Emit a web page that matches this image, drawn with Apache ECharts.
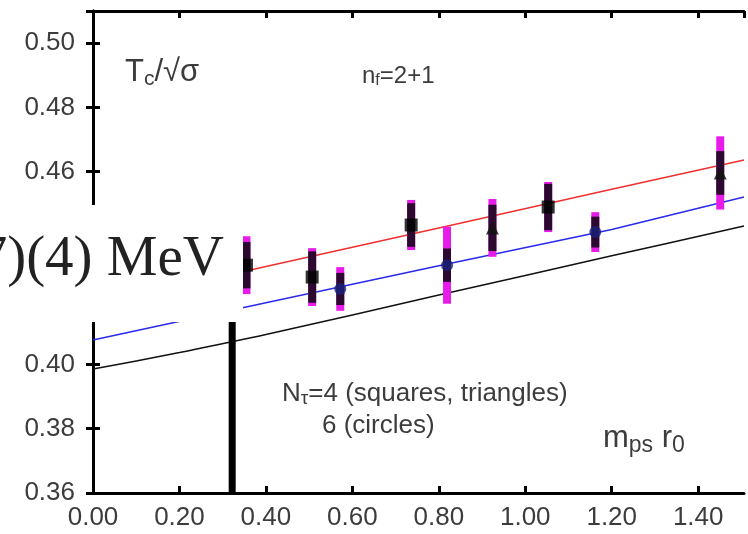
<!DOCTYPE html>
<html>
<head>
<meta charset="utf-8">
<script src="https://cdn.jsdelivr.net/npm/echarts@6/dist/echarts.min.js"></script>
<style>
  html, body { margin: 0; padding: 0; background: #fff; }
  #chart { width: 748px; height: 534px; }
</style>
</head>
<body>
<div id="chart"></div>
<script>
// Axis tick values
const xTicks = [0.0, 0.2, 0.4, 0.6, 0.8, 1.0, 1.2, 1.4];
const yTicks = [0.36, 0.38, 0.40, 0.42, 0.44, 0.46, 0.48, 0.50];

// N_tau = 4, squares: x, value, inner (statistical) and outer (total) errors
const squareX = [0.355, 0.507, 0.736, 1.053];
const squareY = [0.4309, 0.4272, 0.4434, 0.4490];
const squareErrIn = [0.0072, 0.0080, 0.0068, 0.0072];
const squareErrOut = [0.0090, 0.0090, 0.0078, 0.0078];

// N_tau = 4, triangles
const triX = [0.924, 1.451];
const triY = [0.4425, 0.4596];
const triErrIn = [0.0072, 0.0068];
const triErrOut = [0.0090, 0.0114];

// N_tau = 6, circles
const circX = [0.572, 0.819, 1.162];
const circY = [0.4235, 0.4309, 0.4412];
const circErrIn = [0.0050, 0.0052, 0.0048];
const circErrOut = [0.0068, 0.0120, 0.0062];

// Fit curves (x, Tc/sqrt(sigma))
const fitRedX = [0.0, 0.4, 0.8, 1.2, 1.506];
const fitRedY = [0.4184, 0.4305, 0.4425, 0.4545, 0.4636];
const fitBlueX = [0.0, 0.4, 0.8, 1.2, 1.506];
const fitBlueY = [0.4076, 0.4192, 0.4307, 0.4420, 0.4521];
const fitBlackX = [0.0, 0.1, 0.2, 0.4, 0.8, 1.2, 1.506];
const fitBlackY = [0.3986, 0.4011, 0.4037, 0.4093, 0.4216, 0.4338, 0.4431];

// Physical point m_ps r0
const physX = [0.322, 0.322];
const physY = [0.36, 0.42];

const X_MIN = 0, X_MAX = 1.506, Y_MIN = 0.36, Y_MAX = 0.51;
const textColor = '#3c3c3c';
const sans = 'Liberation Sans, Arial, sans-serif';

const zip = (xs, ys) => xs.map((x, i) => [x, ys[i]]);
const isTick = (v, list) => list.some(t => Math.abs(t - v) < 1e-6);

// Error bar rows: [x, y, errIn, errOut]
const errRows = [].concat(
  squareX.map((x, i) => [x, squareY[i], squareErrIn[i], squareErrOut[i]]),
  triX.map((x, i) => [x, triY[i], triErrIn[i], triErrOut[i]]),
  circX.map((x, i) => [x, circY[i], circErrIn[i], circErrOut[i]])
);

function errBar(which, color, width) {
  return {
    type: 'custom',
    data: errRows,
    z: which === 'out' ? 3 : 4,
    silent: true,
    renderItem: function (params, api) {
      const x = api.value(0), y = api.value(1);
      const e = which === 'out' ? api.value(3) : api.value(2);
      const top = api.coord([x, y + e]);
      const bot = api.coord([x, y - e]);
      return {
        type: 'rect',
        shape: { x: top[0] - width / 2, y: top[1], width: width, height: bot[1] - top[1] },
        style: { fill: color }
      };
    }
  };
}

const axisLine = { show: true, lineStyle: { color: '#000', width: 3 } };
const axisTick = { show: true, inside: true, length: 7, lineStyle: { color: '#000', width: 3 } };

const chart = echarts.init(document.getElementById('chart'), null, { renderer: 'canvas' });
chart.setOption({
  animation: false,
  backgroundColor: '#fff',
  grid: { left: 93, right: 4, top: 11, bottom: 41, containLabel: false },
  xAxis: [{
    type: 'value', min: X_MIN, max: X_MAX, interval: 0.2, position: 'bottom',
    axisLine: axisLine, axisTick: axisTick, splitLine: { show: false },
    axisLabel: {
      margin: 12, color: textColor, fontFamily: sans, fontSize: 26,
      showMaxLabel: false,
      formatter: v => isTick(v, xTicks) ? v.toFixed(2) : ''
    }
  }, {
    type: 'value', min: X_MIN, max: X_MAX, interval: 0.2, position: 'top',
    axisLine: axisLine, axisTick: axisTick, splitLine: { show: false },
    axisLabel: { show: false }
  }],
  yAxis: [{
    type: 'value', min: Y_MIN, max: Y_MAX, interval: 0.02, position: 'left',
    axisLine: axisLine, axisTick: axisTick, splitLine: { show: false },
    axisLabel: {
      margin: 18, color: textColor, fontFamily: sans, fontSize: 26,
      showMaxLabel: false,
      formatter: v => isTick(v, yTicks) ? v.toFixed(2) : ''
    }
  }, {
    type: 'value', min: Y_MIN, max: Y_MAX, interval: 0.02, position: 'right',
    axisLine: axisLine, axisTick: axisTick, splitLine: { show: false },
    axisLabel: { show: false }
  }],
  series: [
    { type: 'line', data: zip(fitBlackX, fitBlackY), showSymbol: false, smooth: 0.3,
      lineStyle: { color: '#111', width: 1.5 }, z: 2, silent: true },
    { type: 'line', data: zip(fitBlueX, fitBlueY), showSymbol: false,
      lineStyle: { color: '#2a2aee', width: 1.5 }, z: 2, silent: true },
    { type: 'line', data: zip(fitRedX, fitRedY), showSymbol: false,
      lineStyle: { color: '#ee3030', width: 1.5 }, z: 2, silent: true },
    { type: 'line', data: zip(physX, physY), showSymbol: false,
      lineStyle: { color: '#000', width: 7 }, z: 2, silent: true },
    errBar('out', '#e81ce8', 8),
    errBar('in', '#2c0a30', 8),
    { type: 'scatter', data: zip(squareX, squareY), symbol: 'rect', symbolSize: 13,
      itemStyle: { color: '#000' }, z: 5 },
    { type: 'scatter', data: zip(triX, triY), symbol: 'triangle', symbolSize: 13,
      itemStyle: { color: '#111' }, z: 5 },
    { type: 'scatter', data: zip(circX, circY), symbol: 'circle', symbolSize: 12,
      itemStyle: { color: '#18207a' }, z: 5 }
  ],
  graphic: [
    {
      type: 'text', left: 125, top: 57, z: 50,
      style: {
        text: '{t|T}{s|c}{t|/√σ}',
        rich: {
          t: { fontFamily: sans, fontSize: 31, fill: textColor },
          s: { fontFamily: sans, fontSize: 21, fill: textColor, padding: [14, 0, 0, 0] }
        }
      }
    },
    {
      type: 'text', left: 362, top: 64, z: 50,
      style: {
        text: '{t|n}{s|f}{t|=2+1}',
        rich: {
          t: { fontFamily: sans, fontSize: 24, fill: textColor },
          s: { fontFamily: sans, fontSize: 16, fill: textColor, padding: [10, 0, 0, 0] }
        }
      }
    },
    {
      type: 'text', left: 282, top: 381, z: 50,
      style: {
        text: '{t|N}{s|τ}{t|=4 (squares, triangles)}',
        rich: {
          t: { fontFamily: sans, fontSize: 26, fill: textColor },
          s: { fontFamily: sans, fontSize: 19, fill: textColor, padding: [10, 0, 0, 0] }
        }
      }
    },
    {
      type: 'text', left: 322, top: 413, z: 50,
      style: { text: '6 (circles)', fontFamily: sans, fontSize: 26, fill: textColor }
    },
    {
      type: 'text', left: 603, top: 423, z: 50,
      style: {
        text: '{t|m}{s|ps}{t| r}{s|0}',
        rich: {
          t: { fontFamily: sans, fontSize: 31, fill: textColor },
          s: { fontFamily: sans, fontSize: 23, fill: textColor, padding: [14, 0, 0, 0] }
        }
      }
    },
    {
      type: 'rect', z: 100,
      shape: { x: 0, y: 205, width: 243, height: 117 },
      style: { fill: '#fff' }
    },
    {
      type: 'text', z: 101, x: 224, y: 260,
      style: {
        text: '7)(4) MeV', fontFamily: 'Liberation Serif, DejaVu Serif, serif',
        fontSize: 57, fill: '#222', align: 'right', verticalAlign: 'middle'
      }
    }
  ]
});
</script>
</body>
</html>
